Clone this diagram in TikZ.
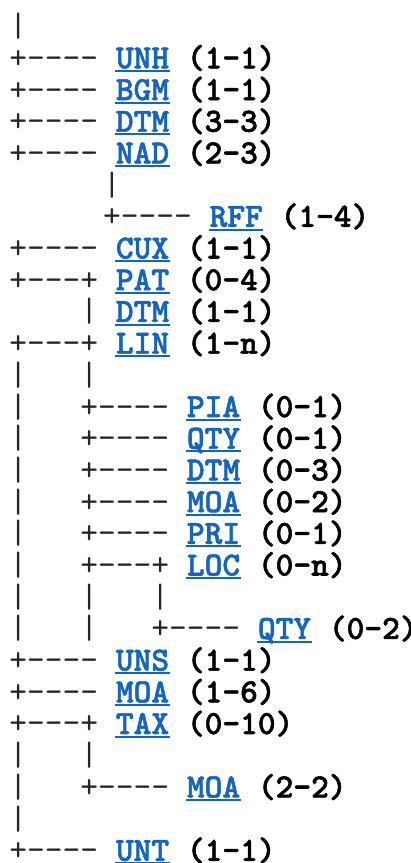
\documentclass[tikz,border=0pt]{standalone}
\usepackage{fontspec}
\setmonofont{lmmono10-regular.otf}[BoldFont=lmmonolt10-bold.otf,
  BoldFeatures={FakeBold=1.6}]
\usepackage{tikz}

\definecolor{segblue}{RGB}{21,101,192}
\newcommand{\treefont}{\fontsize{16.9}{20}\selectfont\ttfamily}
\newcommand{\lnk}{+-{}-{}-{}-}
\newcommand{\lnkp}{+-{}-{}-{}+}

\tikzset{
  tree/.style={anchor=base west,inner sep=0pt,font=\treefont,text=black!85},
  segment/.style={anchor=base west,inner sep=0pt,font=\treefont\bfseries,text=segblue},
  repeats/.style={anchor=base west,inner sep=0pt,font=\treefont\bfseries,text=black},
  uline/.style={segblue,line width=1pt}
}

\begin{document}
\begin{tikzpicture}[x=8.875pt,y=-15.85pt]
  \useasboundingbox (-0.507,-0.155) rectangle (22.648,27.07);

  % branches: row/column/text
  \foreach \n/\c/\t [count=\i] in {1/0/|, 2/0/\lnk, 3/0/\lnk, 4/0/\lnk, 5/0/\lnk,
      6/5.28/|, 7/5.28/\lnk, 8/0/\lnk, 9/0/\lnkp, 10/4/|, 11/0/\lnkp,
      12/0/|, 12/4/|, 13/0/|, 13/4/\lnk, 14/0/|, 14/4/\lnk, 15/0/|, 15/4/\lnk,
      16/0/|, 16/4/\lnk, 17/0/|, 17/4/\lnk, 18/0/|, 18/4/\lnkp,
      19/0/|, 19/4/|, 19/8/|, 20/0/|, 20/4/|, 20/8/\lnk,
      21/0/\lnk, 22/0/\lnk, 23/0/\lnkp, 24/0/|, 24/4/|, 25/0/|, 25/4/\lnk,
      26/0/|, 27/0/\lnk}
    \node[tree] (br\i) at (\c,\n) {\t};

  % segments with their repeats
  \foreach \n/\c/\name/\lab/\cnt in {2/6/unh/UNH/(1-1), 3/6/bgm/BGM/(1-1),
      4/6/dtm/DTM/(3-3), 5/6/nad/NAD/(2-3), 7/11.28/rff/RFF/(1-4),
      8/6/cux/CUX/(1-1), 9/6/pat/PAT/(0-4), 10/6/dtm2/DTM/(1-1),
      11/6/lin/LIN/(1-n), 13/10/pia/PIA/(0-1), 14/10/qty/QTY/(0-1),
      15/10/dtm3/DTM/(0-3), 16/10/moa/MOA/(0-2), 17/10/pri/PRI/(0-1),
      18/10/loc/LOC/(0-n), 20/14/qty2/QTY/(0-2), 21/6/uns/UNS/(1-1),
      22/6/moa2/MOA/(1-6), 23/6/tax/TAX/(0-10), 25/10/moa3/MOA/(2-2),
      27/6/unt/UNT/(1-1)}{
    \node[segment] (\name) at (\c,\n) {\lab};
    \node[repeats] (\name-r) at (\c+4,\n) {\cnt};
    \draw[uline] ([yshift=-1.35pt]\name.base west) -- ([yshift=-1.35pt]\name.base east);
  }
\end{tikzpicture}
\end{document}
